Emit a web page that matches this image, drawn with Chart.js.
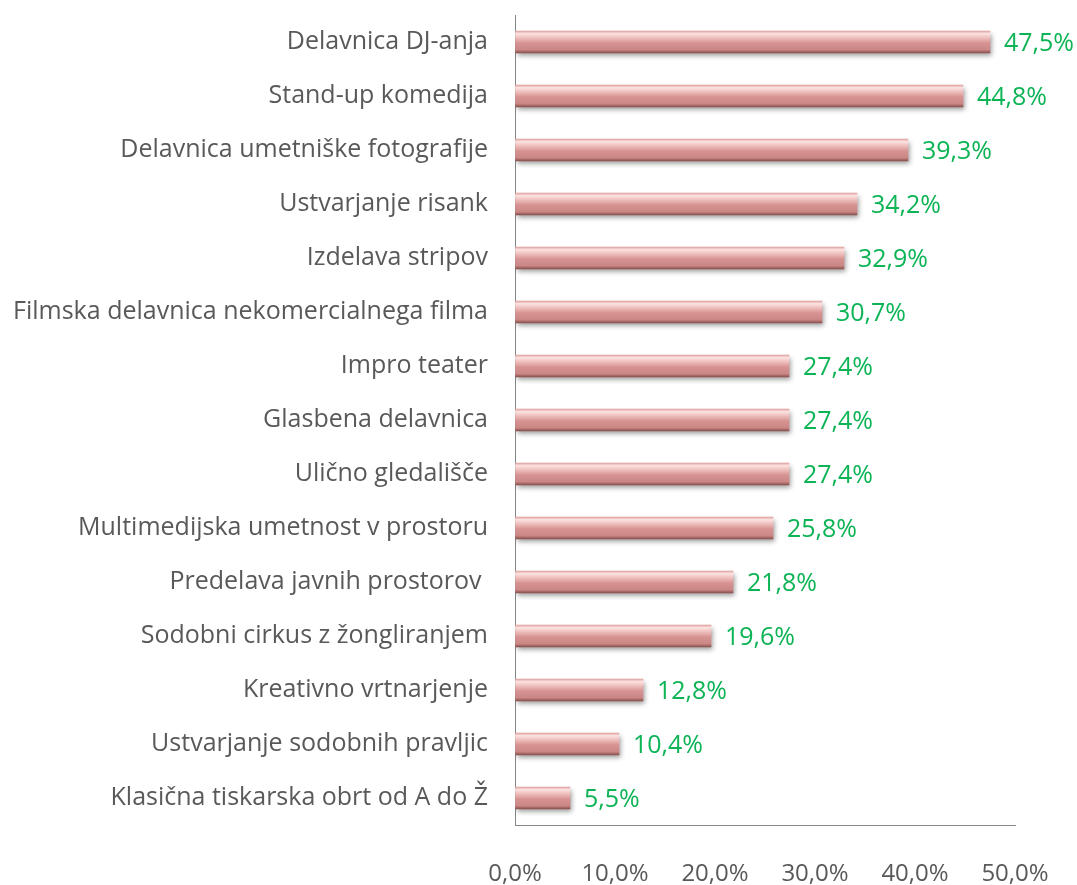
<!DOCTYPE html>
<html>
<head>
<meta charset="utf-8">
<script src="https://cdn.jsdelivr.net/npm/chart.js@4.4.0/dist/chart.umd.min.js"></script>
<style>
  html, body { margin: 0; padding: 0; background: #fff; }
  #wrap { width: 1077px; height: 885px; }
</style>
</head>
<body>
<div id="wrap"><canvas id="chart" width="1077" height="885"></canvas></div>
<script>
const categories = [
  "Delavnica DJ-anja",
  "Stand-up komedija",
  "Delavnica umetniške fotografije",
  "Ustvarjanje risank",
  "Izdelava stripov",
  "Filmska delavnica nekomercialnega filma",
  "Impro teater",
  "Glasbena delavnica",
  "Ulično gledališče",
  "Multimedijska umetnost v prostoru",
  "Predelava javnih prostorov ",
  "Sodobni cirkus z žongliranjem",
  "Kreativno vrtnarjenje",
  "Ustvarjanje sodobnih pravljic",
  "Klasična tiskarska obrt od A do Ž"
];
const shares = [47.5, 44.8, 39.3, 34.2, 32.9, 30.7, 27.4, 27.4, 27.4, 25.8, 21.8, 19.6, 12.8, 10.4, 5.5];
const xTicks = [0, 10, 20, 30, 40, 50];

const fmt = v => v.toFixed(1).replace(".", ",") + "%";
const FONT = "'Open Sans', 'Noto Sans', sans-serif";
const BAR_H = 22;

// vertical bevel gradient, placed on each bar's own row
function barFill(c) {
  const y = c.chart.scales.y;
  const mid = y && c.dataIndex !== undefined ? y.getPixelForValue(c.dataIndex) : NaN;
  if (!Number.isFinite(mid)) return "#d89391";
  const g = c.chart.ctx.createLinearGradient(0, mid - BAR_H / 2, 0, mid + BAR_H / 2);
  g.addColorStop(0, "#e0a09e");
  g.addColorStop(0.12, "#fbe3e2");
  g.addColorStop(0.3, "#efc0be");
  g.addColorStop(0.55, "#d69391");
  g.addColorStop(0.85, "#cb8785");
  g.addColorStop(1, "#8a504e");
  return g;
}

const barShadowAndLabels = {
  id: "barShadowAndLabels",
  beforeDatasetsDraw(chart) {
    const ctx = chart.ctx;
    ctx.save();
    ctx.shadowColor = "rgba(0,0,0,0.4)";
    ctx.shadowBlur = 5;
    ctx.shadowOffsetX = 2;
    ctx.shadowOffsetY = 3;
  },
  afterDatasetsDraw(chart) {
    const ctx = chart.ctx;
    ctx.restore();
    ctx.save();
    ctx.font = "25px " + FONT;
    ctx.fillStyle = "#0db455";
    ctx.textAlign = "left";
    ctx.textBaseline = "middle";
    chart.getDatasetMeta(0).data.forEach((bar, i) => {
      ctx.fillText(fmt(shares[i]), bar.x + 14, bar.y + 2);
    });
    ctx.restore();
  }
};

new Chart(document.getElementById("chart"), {
  type: "bar",
  data: {
    labels: categories,
    datasets: [{
      data: shares,
      backgroundColor: barFill,
      borderWidth: 0,
      barThickness: BAR_H
    }]
  },
  options: {
    indexAxis: "y",
    responsive: false,
    animation: false,
    layout: { padding: { top: 15, right: 62, left: 0, bottom: 0 } },
    plugins: { legend: { display: false }, tooltip: { enabled: false } },
    scales: {
      x: {
        min: 0,
        max: 50,
        afterBuildTicks: s => { s.ticks = xTicks.map(v => ({ value: v })); },
        afterFit: s => { s.height = 60; s.paddingLeft = 0; s.paddingRight = 0; },
        grid: { display: true, color: "transparent", drawTicks: false },
        border: { display: true, color: "#868686", width: 1 },
        ticks: {
          padding: 35,
          color: "#595959",
          font: { family: FONT, size: 24 },
          callback: v => fmt(v)
        }
      },
      y: {
        afterFit: s => { s.width = 515; s.paddingTop = 0; s.paddingBottom = 0; },
        grid: { display: true, color: "transparent", drawTicks: false },
        border: { display: true, color: "#868686", width: 1 },
        ticks: {
          padding: 27,
          color: "#595959",
          autoSkip: false,
          font: { family: FONT, size: 25 }
        }
      }
    }
  },
  plugins: [barShadowAndLabels]
});
</script>
</body>
</html>
